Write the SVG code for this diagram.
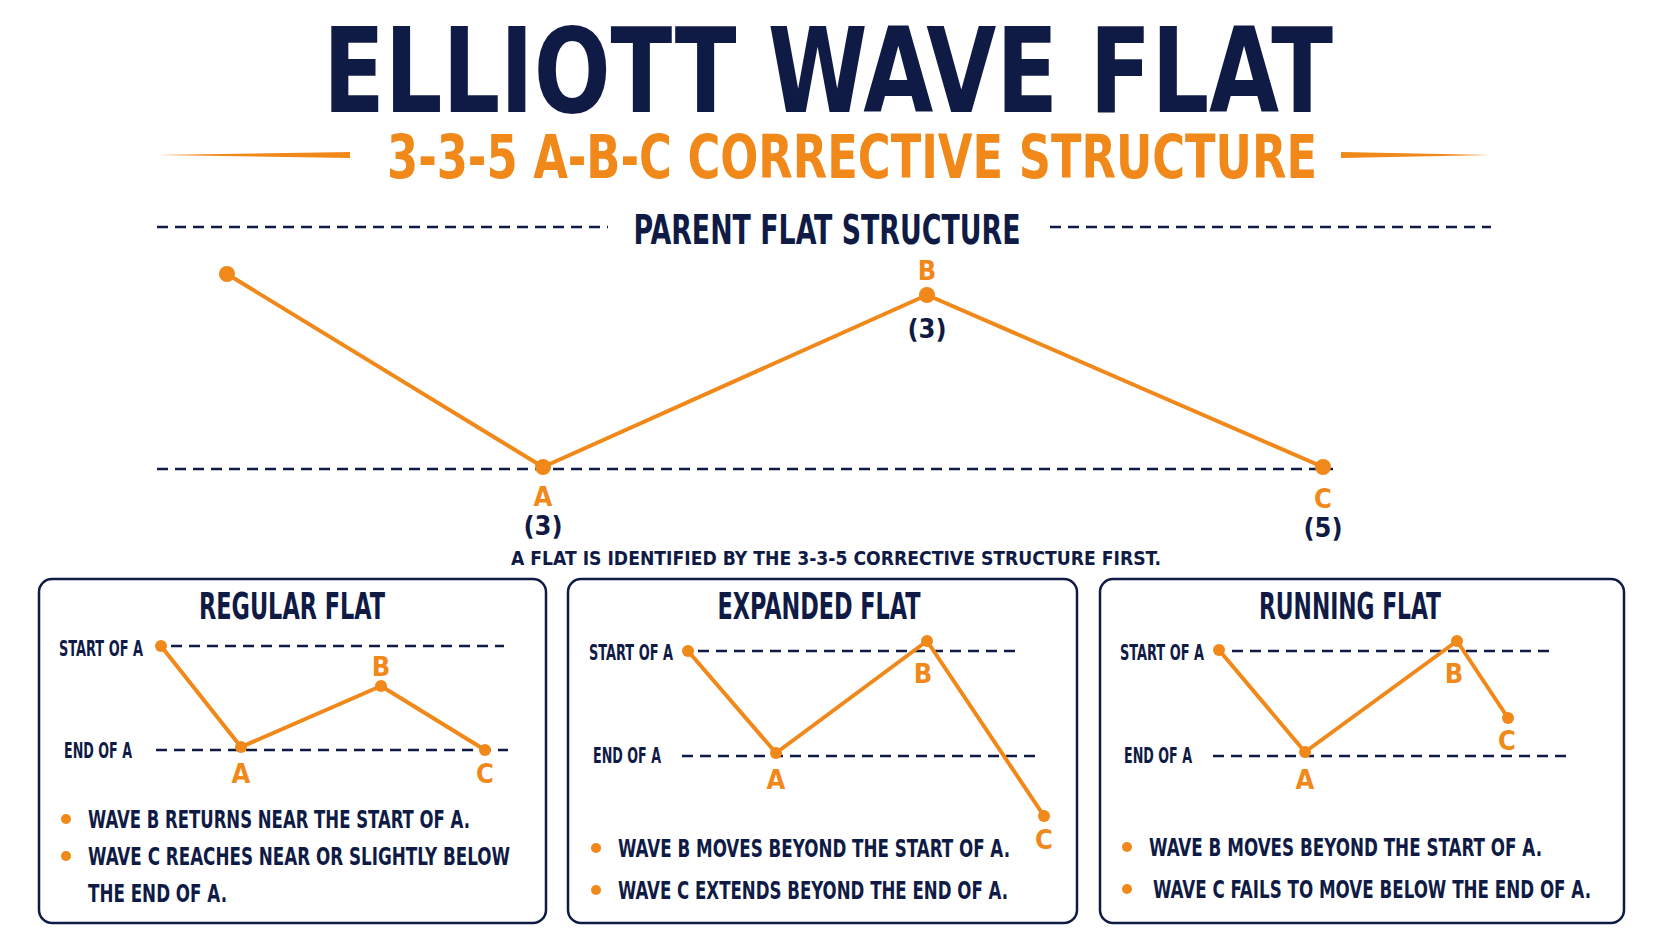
<svg xmlns="http://www.w3.org/2000/svg" width="1672" height="941" viewBox="0 0 1672 941">
<style>
text{font-family:"DejaVu Sans","Liberation Sans",sans-serif;font-weight:bold;font-stretch:condensed}
.n{fill:#0f1b45}.o{fill:#f0881a}
.dash{stroke:#0f1b45;stroke-width:2.5;stroke-dasharray:11 7;fill:none}
.w{stroke:#f0881a;stroke-width:4;fill:none;stroke-linejoin:round}
.box{fill:#fff;stroke:#0f1b45;stroke-width:2.5}
.lab{font-size:21px}.pt{font-size:27px;text-anchor:middle}.bt{font-size:25px}.tt{font-size:37px;text-anchor:middle}
</style>
<rect width="1672" height="941" fill="#fff"/>
<g id="header">
<text x="828" y="112" class="n" font-size="118" text-anchor="middle" textLength="1010" lengthAdjust="spacingAndGlyphs" style="font-weight:900">ELLIOTT WAVE FLAT</text>
<text x="852" y="178" class="o" font-size="60" text-anchor="middle" textLength="930" lengthAdjust="spacingAndGlyphs">3-3-5 A-B-C CORRECTIVE STRUCTURE</text>
<path d="M157 155 L350 152 L350 158 Z M1341 152 L1491 155 L1341 158 Z" fill="#f0881a"/>
</g>
<g id="parent">
<line x1="157" y1="227" x2="608" y2="227" class="dash"/>
<line x1="1050" y1="227" x2="1491" y2="227" class="dash"/>
<text x="827" y="244" class="n" font-size="40" text-anchor="middle" textLength="387" lengthAdjust="spacingAndGlyphs">PARENT FLAT STRUCTURE</text>
<line x1="157" y1="469" x2="1333" y2="469" class="dash"/>
<polyline points="227,274 543,467 927,295 1323,467" class="w"/>
<g fill="#f0881a"><circle cx="227" cy="274" r="8"/><circle cx="543" cy="467" r="8"/><circle cx="927" cy="295" r="8"/><circle cx="1323" cy="467" r="8"/></g>
<text x="927" y="280" class="o pt">B</text>
<text x="927" y="338" class="n pt" font-size="26">(3)</text>
<text x="543" y="506" class="o pt">A</text>
<text x="543" y="535" class="n pt" font-size="26">(3)</text>
<text x="1323" y="508" class="o pt">C</text>
<text x="1323" y="537" class="n pt" font-size="26">(5)</text>
<text x="836" y="565" class="n" font-size="20" text-anchor="middle" textLength="650" lengthAdjust="spacingAndGlyphs">A FLAT IS IDENTIFIED BY THE 3-3-5 CORRECTIVE STRUCTURE FIRST.</text>
</g>
<g id="regular">
<rect x="39" y="579" width="507" height="344" rx="13" class="box"/>
<text x="292" y="619" class="n tt" textLength="186" lengthAdjust="spacingAndGlyphs">REGULAR FLAT</text>
<text x="59" y="656" class="n lab" textLength="84" lengthAdjust="spacingAndGlyphs">START OF A</text>
<text x="64" y="758" class="n lab" textLength="68" lengthAdjust="spacingAndGlyphs">END OF A</text>
<line x1="171" y1="646" x2="504" y2="646" class="dash"/>
<line x1="156" y1="750" x2="508" y2="750" class="dash"/>
<polyline points="161,646 241,747 381,686 485,750" class="w"/>
<g fill="#f0881a"><circle cx="161" cy="646" r="6"/><circle cx="241" cy="747" r="6"/><circle cx="381" cy="686" r="6"/><circle cx="485" cy="750" r="6"/></g>
<text x="381" y="676" class="o pt">B</text><text x="241" y="783" class="o pt">A</text><text x="485" y="783" class="o pt">C</text>
<circle cx="66" cy="819" r="5" fill="#f0881a"/><circle cx="66" cy="856" r="5" fill="#f0881a"/>
<text x="88" y="828" class="n bt" textLength="382" lengthAdjust="spacingAndGlyphs">WAVE B RETURNS NEAR THE START OF A.</text>
<text x="88" y="865" class="n bt" textLength="422" lengthAdjust="spacingAndGlyphs">WAVE C REACHES NEAR OR SLIGHTLY BELOW</text>
<text x="88" y="902" class="n bt" textLength="139" lengthAdjust="spacingAndGlyphs">THE END OF A.</text>
</g>
<g id="expanded">
<rect x="568" y="579" width="509" height="344" rx="13" class="box"/>
<text x="819" y="619" class="n tt" textLength="203" lengthAdjust="spacingAndGlyphs">EXPANDED FLAT</text>
<text x="589" y="660" class="n lab" textLength="84" lengthAdjust="spacingAndGlyphs">START OF A</text>
<text x="593" y="763" class="n lab" textLength="68" lengthAdjust="spacingAndGlyphs">END OF A</text>
<line x1="698" y1="651" x2="1021" y2="651" class="dash"/>
<line x1="682" y1="756" x2="1036" y2="756" class="dash"/>
<polyline points="688,651 776,753 927,641 1044,816" class="w"/>
<g fill="#f0881a"><circle cx="688" cy="651" r="6"/><circle cx="776" cy="753" r="6"/><circle cx="927" cy="641" r="6"/><circle cx="1044" cy="816" r="6"/></g>
<text x="923" y="683" class="o pt">B</text><text x="776" y="789" class="o pt">A</text><text x="1044" y="849" class="o pt">C</text>
<circle cx="596" cy="848" r="5" fill="#f0881a"/><circle cx="596" cy="890" r="5" fill="#f0881a"/>
<text x="618" y="857" class="n bt" textLength="392" lengthAdjust="spacingAndGlyphs">WAVE B MOVES BEYOND THE START OF A.</text>
<text x="618" y="899" class="n bt" textLength="390" lengthAdjust="spacingAndGlyphs">WAVE C EXTENDS BEYOND THE END OF A.</text>
</g>
<g id="running">
<rect x="1100" y="579" width="524" height="344" rx="13" class="box"/>
<text x="1350" y="619" class="n tt" textLength="182" lengthAdjust="spacingAndGlyphs">RUNNING FLAT</text>
<text x="1120" y="660" class="n lab" textLength="84" lengthAdjust="spacingAndGlyphs">START OF A</text>
<text x="1124" y="763" class="n lab" textLength="68" lengthAdjust="spacingAndGlyphs">END OF A</text>
<line x1="1232" y1="651" x2="1553" y2="651" class="dash"/>
<line x1="1213" y1="756" x2="1567" y2="756" class="dash"/>
<polyline points="1219,650 1305,752 1457,641 1508,718" class="w"/>
<g fill="#f0881a"><circle cx="1219" cy="650" r="6"/><circle cx="1305" cy="752" r="6"/><circle cx="1457" cy="641" r="6"/><circle cx="1508" cy="718" r="6"/></g>
<text x="1454" y="683" class="o pt">B</text><text x="1305" y="789" class="o pt">A</text><text x="1507" y="750" class="o pt">C</text>
<circle cx="1127" cy="847" r="5" fill="#f0881a"/><circle cx="1127" cy="889" r="5" fill="#f0881a"/>
<text x="1149" y="856" class="n bt" textLength="393" lengthAdjust="spacingAndGlyphs">WAVE B MOVES BEYOND THE START OF A.</text>
<text x="1153" y="898" class="n bt" textLength="438" lengthAdjust="spacingAndGlyphs">WAVE C FAILS TO MOVE BELOW THE END OF A.</text>
</g>
<g id="connectors"/>
</svg>
